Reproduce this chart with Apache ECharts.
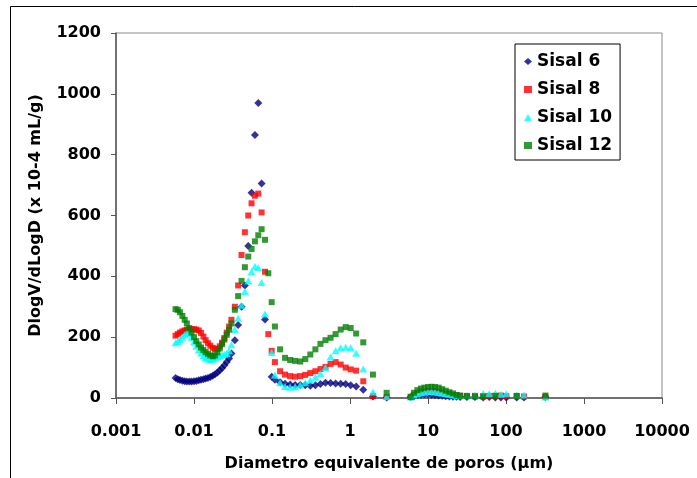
<!DOCTYPE html>
<html>
<head>
<meta charset="utf-8">
<script src="https://cdn.jsdelivr.net/npm/echarts/dist/echarts.min.js"></script>
<style>
  html, body { margin: 0; padding: 0; background: #fff; }
  #chart { width: 697px; height: 478px; }
</style>
</head>
<body>
<div id="chart"></div>
<script>
// pore diameter (µm), shared by the four samples
const diameters = [
  0.0058, 0.0062, 0.0066, 0.0071, 0.0076, 0.0081, 0.0087, 0.0093, 0.0100, 0.0107, 0.0115, 0.0123, 0.0132,
  0.0141, 0.0151, 0.0162, 0.0174, 0.0186, 0.0200, 0.0214, 0.0229, 0.0245, 0.0263, 0.0282, 0.0302,
  0.0334, 0.0368, 0.0407, 0.0449, 0.0496, 0.0547, 0.0604, 0.0667, 0.0736, 0.0813, 0.0897, 0.0990,
  0.109, 0.127, 0.147, 0.171, 0.198, 0.230, 0.267, 0.310, 0.360, 0.418, 0.485, 0.563, 0.654, 0.759,
  0.881, 1.02, 1.20, 1.48, 1.97,
  2.95, 6.0, 6.6, 7.3, 8.1, 9.0, 10.0, 11.1, 12.3, 13.7, 15.2, 16.9, 18.8, 20.9, 23.2, 25.8,
  31.5, 40, 51, 61, 73, 86, 101, 137, 170, 320
]

const sisal6 = [
  66, 62, 59, 57, 55, 54, 54, 54, 55, 56, 58, 60, 62, 64, 66, 69, 73, 78, 84, 91, 99, 108, 118, 130, 146,
  190, 240, 300, 370, 500, 675, 865, 970, 705, 258, null, 70,
  60, 52, 47, 44, 43, 43, 42, 40, 42, 46, 50, 49, 48, 47, 46, 42, 38, 27, 5,
  2, 3, 6, 9, 11, 12, 12, 11, 10, 8, 7, 6, 5, 4, 4, 3, 3, 3, 2, 3, 2, 2, 2, 2, 2, 3
]
const sisal8 = [
  205, 210, 215, 219, 222, 224, 225, 226, 226, 225, 222, 214, 202, 190, 180, 172, 165, 160, 162, 170, 182, 197, 215, 235, 257,
  300, 370, 470, 545, 600, 640, 665, 672, 610, 415, 210, 155,
  118, 88, 77, 72, 70, 72, 76, 82, 88, 95, 102, 112, 118, 110, 100, 94, 90, 55, 6,
  3, 4, 10, 16, 20, 22, 23, 23, 22, 20, 17, 15, 12, 10, 9, 8, 7, 7, 6, 7, 7, 8, 6, 6, 5, 4
]
const sisal10 = [
  182, 186, 192, 200, 208, 214, 213, 200, 184, 170, 158, 148, 139, 132, 128, 126, 127, 131, 135, 138, 141, 144, 146, 155, 175,
  225, 262, 305, 350, 385, 415, 432, 428, 380, 276, null, 150,
  75, 50, 38, 35, 37, 43, 50, 58, 68, 80, 100, 135, 155, 165, 167, 165, 147, 95, 20,
  5, 3, 10, 14, 17, 19, 21, 21, 20, 18, 16, 14, 12, 10, 9, 8, 8, 10, 15, 14, 16, 12, 14, 10, 10, 3
]
const sisal12 = [
  292, 290, 282, 270, 257, 245, 230, 215, 200, 187, 176, 166, 158, 151, 145, 140, 137, 140, 150, 163, 177, 192, 208, 225, 245,
  290, 335, 385, 430, 465, 490, 515, 535, 555, 520, 410, 315,
  235, 160, 132, 125, 122, 120, 128, 143, 160, 178, 190, 198, 210, 225, 233, 230, 212, 183, 77,
  17, 3, 17, 26, 31, 34, 36, 37, 36, 34, 29, 24, 19, 15, 10, 7, 6, 5, 5, null, 7, null, null, 7, null, 8
]

const seriesNames = ['Sisal 6', 'Sisal 8', 'Sisal 10', 'Sisal 12']
const xTickLabels = ['0.001', '0.01', '0.1', '1', '10', '100', '1000', '10000']

const font = 'DejaVu Sans'

function pairs(values) {
  const out = []
  diameters.forEach((d, i) => {
    if (values[i] != null) out.push([d, values[i]])
  })
  return out
}

const chart = echarts.init(document.getElementById('chart'))

const option = {
  animation: false,
  backgroundColor: '#fff',
  textStyle: { fontFamily: font },
  graphic: [
    {
      type: 'rect',
      shape: { x: 10.5, y: 6.5, width: 720, height: 520 },
      style: { fill: 'none', stroke: '#000', lineWidth: 1 },
      silent: true
    }
  ],
  grid: {
    left: 116,
    right: 35,
    top: 33,
    bottom: 80,
    containLabel: false,
    outerBoundsMode: 'none',
    show: true,
    borderColor: '#8c8c8c',
    borderWidth: 1
  },
  legend: {
    orient: 'vertical',
    left: 515,
    top: 44,
    padding: [9, 8, 6, 9],
    itemGap: 11,
    itemWidth: 8,
    itemHeight: 7,
    borderColor: '#000',
    borderWidth: 1,
    backgroundColor: '#fff',
    textStyle: { fontFamily: font, fontWeight: 'bold', fontSize: 17, color: '#000' },
    data: seriesNames
  },
  xAxis: {
    type: 'log',
    logBase: 10,
    min: 0.001,
    max: 10000,
    splitNumber: 7,
    name: 'Diametro equivalente de poros (µm)',
    nameLocation: 'middle',
    nameGap: 58,
    nameTextStyle: { fontFamily: font, fontWeight: 'bold', fontSize: 16, color: '#000' },
    axisLine: { show: true, lineStyle: { color: '#555', width: 1.5 } },
    axisTick: { show: true, length: 6, lineStyle: { color: '#555' } },
    axisLabel: {
      margin: 26,
      fontFamily: font,
      fontWeight: 'bold',
      fontSize: 16,
      color: '#000',
      formatter(value) {
        const k = Math.round(Math.log10(value)) + 3
        return xTickLabels[k] || ''
      }
    },
    splitLine: { show: false }
  },
  yAxis: {
    type: 'value',
    min: 0,
    max: 1200,
    interval: 200,
    name: 'DlogV/dLogD (x 10-4 mL/g)',
    nameLocation: 'middle',
    nameGap: 72,
    nameRotate: 90,
    nameTextStyle: { fontFamily: font, fontWeight: 'bold', fontSize: 16, color: '#000' },
    axisLine: { show: true, lineStyle: { color: '#555', width: 1.5 } },
    axisTick: { show: true, length: 5, lineStyle: { color: '#555' } },
    axisLabel: {
      margin: 15,
      fontFamily: font,
      fontWeight: 'bold',
      fontSize: 16,
      color: '#000',
      formatter: (v) => String(v)
    },
    splitLine: { show: false }
  },
  series: [
    {
      name: 'Sisal 6',
      type: 'scatter',
      symbol: 'diamond',
      symbolSize: 8,
      itemStyle: { color: '#000080' },
      data: pairs(sisal6)
    },
    {
      name: 'Sisal 8',
      type: 'scatter',
      symbol: 'rect',
      symbolSize: 6,
      itemStyle: { color: '#ff0000' },
      data: pairs(sisal8)
    },
    {
      name: 'Sisal 10',
      type: 'scatter',
      symbol: 'triangle',
      symbolSize: [8, 7],
      itemStyle: { color: '#00ffff' },
      data: pairs(sisal10)
    },
    {
      name: 'Sisal 12',
      type: 'scatter',
      symbol: 'rect',
      symbolSize: 6,
      itemStyle: { color: '#008000' },
      data: pairs(sisal12)
    }
  ]
}

chart.setOption(option)
</script>
</body>
</html>
